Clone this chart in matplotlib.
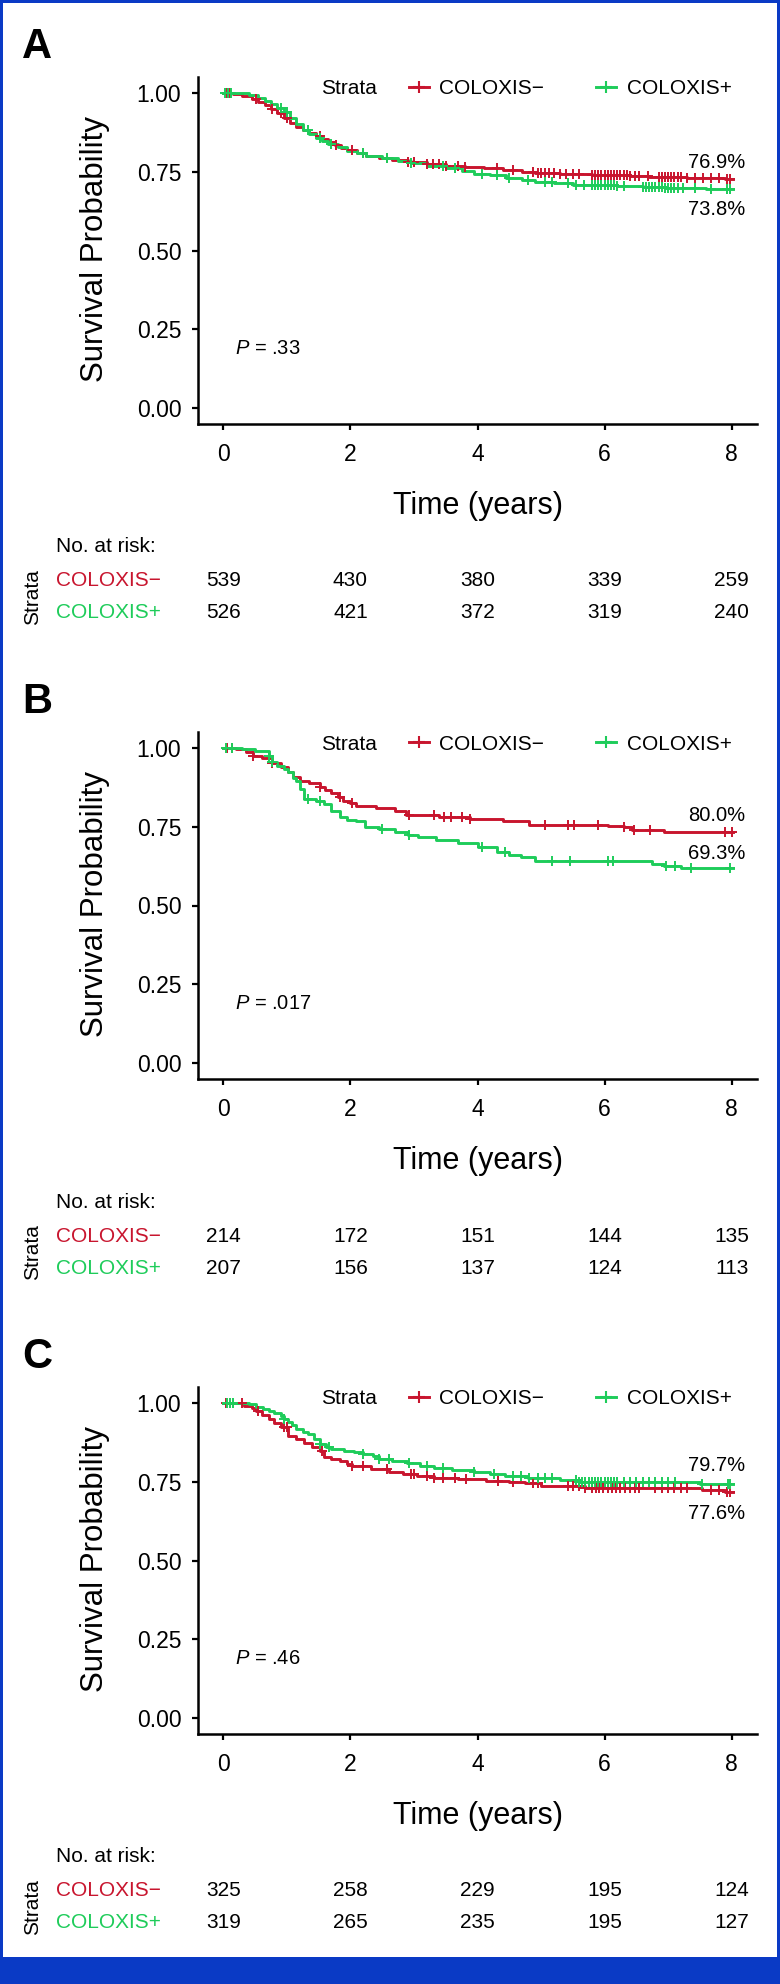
import numpy as np
import matplotlib
matplotlib.use("Agg")
import matplotlib.pyplot as plt
from matplotlib.lines import Line2D
from matplotlib.patches import Rectangle
from matplotlib import transforms

plt.rcParams['font.family'] = ['Liberation Sans', 'DejaVu Sans']
plt.rcParams['mathtext.fontset'] = 'custom'
plt.rcParams['mathtext.it'] = 'Liberation Sans:italic'
plt.rcParams['mathtext.rm'] = 'Liberation Sans'

RED = '#C8152E'
GREEN = '#1ECC5A'
BLUE = '#0A3AC5'

groups = ["COLOXIS\u2212", "COLOXIS+"]
panels = ["A", "B", "C"]
p_values = [".33", ".017", ".46"]
risk_times = [0, 2, 4, 6, 8]
end_time = 8.02

# panel A
a_neg_t = [0, 0.15, 0.3, 0.45, 0.55, 0.65, 0.75, 0.85, 0.95, 1.05, 1.15, 1.25, 1.35, 1.45, 1.55,
           1.65, 1.75, 1.85, 1.95, 2.1, 2.25, 2.45, 2.65, 2.9, 3.2, 3.5, 3.8, 4.1, 4.4, 4.7, 4.9,
           5.3, 5.8, 6.4, 6.7, 7.3, 7.9]
a_neg_s = [1.0, 0.997, 0.99, 0.98, 0.972, 0.962, 0.95, 0.935, 0.92, 0.905, 0.893, 0.882, 0.872,
           0.863, 0.855, 0.845, 0.835, 0.826, 0.818, 0.808, 0.8, 0.793, 0.786, 0.78, 0.774, 0.768,
           0.764, 0.76, 0.755, 0.749, 0.745, 0.742, 0.74, 0.736, 0.732, 0.73, 0.727]
a_neg_cens = [0.05, 0.1, 0.52, 0.77, 0.9, 1.0, 1.52, 1.77, 2.02, 2.2, 2.58, 2.9, 3.0, 3.2, 3.3, 3.4,
              3.5, 3.7, 3.8, 4.3, 4.56, 4.87, 4.95, 5.0, 5.06, 5.12, 5.2, 5.3, 5.4, 5.5, 5.6, 5.81,
              5.85, 5.9, 5.95, 6.0, 6.05, 6.1, 6.15, 6.2, 6.25, 6.3, 6.35, 6.4, 6.48, 6.55, 6.68,
              6.86, 6.9, 6.95, 7.0, 7.05, 7.1, 7.15, 7.2, 7.3, 7.42, 7.55, 7.68, 7.8, 7.92, 7.98]
a_pos_t = [0, 0.2, 0.4, 0.55, 0.65, 0.75, 0.85, 0.95, 1.05, 1.15, 1.25, 1.35, 1.45, 1.55, 1.65,
           1.8, 1.95, 2.1, 2.25, 2.5, 2.75, 2.95, 3.2, 3.5, 3.75, 3.95, 4.2, 4.45, 4.7, 4.9, 5.2,
           5.5, 6.2, 6.6, 6.95, 7.6]
a_pos_s = [1.0, 0.998, 0.993, 0.985, 0.975, 0.965, 0.952, 0.938, 0.92, 0.9, 0.882, 0.868, 0.857,
           0.847, 0.838, 0.828, 0.817, 0.808, 0.8, 0.792, 0.784, 0.776, 0.769, 0.76, 0.752, 0.744,
           0.738, 0.731, 0.722, 0.717, 0.713, 0.709, 0.705, 0.701, 0.697, 0.694]
a_pos_cens = [0.03, 0.07, 0.12, 0.9, 1.0, 1.33, 1.52, 1.7, 2.2, 2.58, 2.95, 3.45, 3.65, 4.07, 4.3,
              4.5, 4.8, 5.06, 5.18, 5.43, 5.55, 5.68, 5.8, 5.85, 5.9, 5.95, 6.0, 6.05, 6.1, 6.15,
              6.2, 6.3, 6.6, 6.65, 6.7, 6.75, 6.8, 6.85, 6.9, 6.95, 7.0, 7.05, 7.1, 7.15, 7.24,
              7.42, 7.67, 7.92, 7.98]

# panel B
b_neg_t = [0, 0.2, 0.35, 0.46, 0.6, 0.77, 0.9, 1.02, 1.1, 1.2, 1.35, 1.52, 1.6, 1.7, 1.8, 1.89,
           2.0, 2.08, 2.4, 2.7, 2.88, 3.4, 3.88, 4.4, 4.81, 6.05, 6.3, 6.43, 6.93]
b_neg_s = [1.0, 0.996, 0.988, 0.975, 0.966, 0.953, 0.938, 0.922, 0.908, 0.896, 0.887, 0.877,
           0.866, 0.858, 0.845, 0.832, 0.824, 0.817, 0.81, 0.8, 0.788, 0.782, 0.774, 0.769,
           0.756, 0.752, 0.75, 0.74, 0.734]
b_neg_cens = [0.05, 0.14, 0.46, 0.77, 1.52, 1.83, 2.02, 2.92, 3.32, 3.48, 3.58, 3.76, 3.88, 5.06,
              5.43, 5.52, 5.9, 6.3, 6.46, 6.71, 7.9, 8.0]
b_pos_t = [0, 0.3, 0.5, 0.71, 0.77, 0.85, 0.95, 1.02, 1.1, 1.14, 1.2, 1.27, 1.45, 1.58, 1.7, 1.83,
           1.95, 2.08, 2.23, 2.45, 2.7, 2.9, 3.07, 3.35, 3.69, 4.0, 4.31, 4.5, 4.69, 4.9, 6.74,
           6.93, 7.2]
b_pos_s = [1.0, 0.996, 0.99, 0.975, 0.955, 0.943, 0.932, 0.922, 0.905, 0.896, 0.87, 0.838, 0.83,
           0.822, 0.8, 0.78, 0.772, 0.767, 0.75, 0.742, 0.732, 0.724, 0.716, 0.707, 0.697, 0.684,
           0.669, 0.66, 0.653, 0.642, 0.632, 0.624, 0.618]
b_pos_cens = [0.04, 0.13, 0.71, 0.77, 1.33, 1.52, 2.5, 2.92, 4.07, 4.44, 5.18, 5.46, 6.05, 6.14,
              6.96, 7.11, 7.36, 7.98]

# panel C
c_neg_t = [0, 0.33, 0.45, 0.52, 0.6, 0.71, 0.8, 0.9, 1.02, 1.15, 1.27, 1.4, 1.52, 1.58, 1.7, 1.83,
           1.95, 2.02, 2.33, 2.6, 2.82, 3.05, 3.32, 3.7, 4.13, 4.5, 4.75, 5.0, 5.7, 7.54, 7.9]
c_neg_s = [1.0, 0.99, 0.982, 0.975, 0.962, 0.948, 0.935, 0.922, 0.896, 0.885, 0.874, 0.86, 0.848,
           0.827, 0.822, 0.816, 0.806, 0.8, 0.79, 0.782, 0.774, 0.768, 0.763, 0.758, 0.753, 0.749,
           0.745, 0.737, 0.729, 0.722, 0.718]
c_neg_cens = [0.04, 0.3, 0.55, 0.96, 1.0, 1.55, 2.02, 2.2, 2.58, 2.95, 3.0, 3.2, 3.32, 3.45, 3.64,
              3.82, 4.32, 4.56, 4.87, 4.96, 5.43, 5.5, 5.6, 5.7, 5.8, 5.87, 5.92, 5.98, 6.05, 6.12,
              6.18, 6.25, 6.32, 6.4, 6.48, 6.55, 6.8, 6.9, 7.0, 7.1, 7.2, 7.3, 7.67, 7.8, 7.92, 7.98]
c_pos_t = [0, 0.4, 0.52, 0.62, 0.71, 0.8, 0.9, 0.95, 1.02, 1.08, 1.14, 1.25, 1.33, 1.42, 1.52,
           1.62, 1.7, 1.9, 2.05, 2.2, 2.35, 2.45, 2.65, 2.89, 3.1, 3.32, 3.6, 3.94, 4.2, 4.44, 4.8,
           5.05, 5.3, 5.6, 7.5]
c_pos_s = [1.0, 0.995, 0.986, 0.98, 0.975, 0.968, 0.959, 0.948, 0.938, 0.928, 0.917, 0.908, 0.901,
           0.885, 0.869, 0.86, 0.854, 0.848, 0.843, 0.838, 0.83, 0.822, 0.815, 0.808, 0.8, 0.793,
           0.786, 0.779, 0.774, 0.769, 0.763, 0.76, 0.755, 0.748, 0.743]
c_pos_cens = [0.05, 0.1, 0.15, 0.96, 1.52, 1.67, 2.2, 2.45, 2.6, 2.92, 3.2, 3.45, 3.95, 4.26, 4.56,
              4.69, 4.81, 4.96, 5.06, 5.18, 5.55, 5.6, 5.65, 5.7, 5.75, 5.8, 5.85, 5.9, 5.95, 6.0,
              6.05, 6.1, 6.15, 6.2, 6.3, 6.4, 6.5, 6.6, 6.7, 6.8, 6.9, 7.0, 7.11, 7.54, 7.95, 7.98]

curves = [
    [(a_neg_t, a_neg_s, a_neg_cens), (a_pos_t, a_pos_s, a_pos_cens)],
    [(b_neg_t, b_neg_s, b_neg_cens), (b_pos_t, b_pos_s, b_pos_cens)],
    [(c_neg_t, c_neg_s, c_neg_cens), (c_pos_t, c_pos_s, c_pos_cens)],
]

risk_neg = [[539, 430, 380, 339, 259], [214, 172, 151, 144, 135], [325, 258, 229, 195, 124]]
risk_pos = [[526, 421, 372, 319, 240], [207, 156, 137, 124, 113], [319, 265, 235, 195, 127]]

# percent labels: (text, y position) for the two labels of each panel
pct_labels = [[("76.9%", 0.778), ("73.8%", 0.63)],
              [("80.0%", 0.785), ("69.3%", 0.665)],
              [("79.7%", 0.80), ("77.6%", 0.649)]]

W, H = 780, 1984
fig = plt.figure(figsize=(W / 100, H / 100), dpi=100, facecolor=BLUE)
fig.patches.append(Rectangle((3 / W, 1 - 1957 / H), 774 / W, 1954 / H,
                             transform=fig.transFigure, facecolor='white', edgecolor='none',
                             zorder=-10))


def fx(x):
    return x / W


def fy(y):
    return 1 - y / H


colors = [RED, GREEN]
for p in range(3):
    o = 655 * p
    ax = fig.add_axes([fx(198), fy(424 + o), fx(757 - 198), (424 - 77) / H])
    ax.set_facecolor('none')
    for g in range(2):
        t, s, cens = curves[p][g]
        t = np.array(t + [end_time])
        s = np.array(s + [s[-1]])
        ax.step(t, s, where='post', color=colors[g], lw=2.1, zorder=3)
        idx = np.searchsorted(t, cens, side='right') - 1
        ax.plot(cens, s[idx], '+', color=colors[g], ms=6.5, mew=1.4, zorder=4)

    ax.set_xlim(-0.4, 8.4)
    ax.set_ylim(-0.05, 1.05)
    ax.set_xticks(risk_times)
    ax.set_yticks([0, 0.25, 0.5, 0.75, 1.0])
    ax.set_yticklabels(["0.00", "0.25", "0.50", "0.75", "1.00"])
    for sp in ['top', 'right']:
        ax.spines[sp].set_visible(False)
    for sp in ['left', 'bottom']:
        ax.spines[sp].set_linewidth(1.8)
    ax.tick_params(axis='both', direction='out', length=4.5, width=1.6, labelsize=16.5,
                   colors='black')
    ax.tick_params(axis='y', pad=7.5)
    ax.tick_params(axis='x', pad=9)

    fig.text(fx(95), fy(249 + o), "Survival Probability", rotation=90, ha='center', va='center',
             fontsize=22.5)
    fig.text(fx(477.5), fy(506 + o), "Time (years)", ha='center', va='center', fontsize=22)
    fig.text(fx(22), fy(58 + o), panels[p], ha='left', va='baseline', fontsize=30,
             fontweight='bold')

    # legend
    fig.text(fx(321), fy(89 + o), "Strata", ha='left', va='center', fontsize=15)
    handles = [Line2D([], [], color=c, lw=2.1, marker='+', ms=8, mew=1.5) for c in colors]
    ax.legend(handles, groups, loc='center left', bbox_to_anchor=(fx(409), fy(89 + o)),
              bbox_transform=fig.transFigure, ncol=2, frameon=False, borderpad=0,
              borderaxespad=0, handlelength=0.95, handletextpad=0.5, columnspacing=2.5,
              fontsize=15, numpoints=1)

    for txt, yv in pct_labels[p]:
        ax.text(8.22, yv, txt, ha='right', va='center', fontsize=14.5)
    ax.text(0.18, 0.19, r"$\it{P}$ = " + p_values[p], ha='left', va='center', fontsize=14.5)

    # risk table
    tr = transforms.blended_transform_factory(ax.transData, fig.transFigure)
    fig.text(fx(56), fy(547 + o), "No. at risk:", ha='left', va='center', fontsize=15)
    fig.text(fx(33), fy(597 + o), "Strata", rotation=90, ha='center', va='center', fontsize=15)
    rows = [risk_neg[p], risk_pos[p]]
    for g, yy in enumerate([581, 613]):
        fig.text(fx(56), fy(yy + o), groups[g], ha='left', va='center', fontsize=15,
                 color=colors[g])
        for tt, n in zip(risk_times, rows[g]):
            ax.text(tt, fy(yy + o), str(n), transform=tr, ha='center', va='center', fontsize=15,
                    clip_on=False)

fig.savefig("out.png", dpi=100, facecolor=BLUE)
